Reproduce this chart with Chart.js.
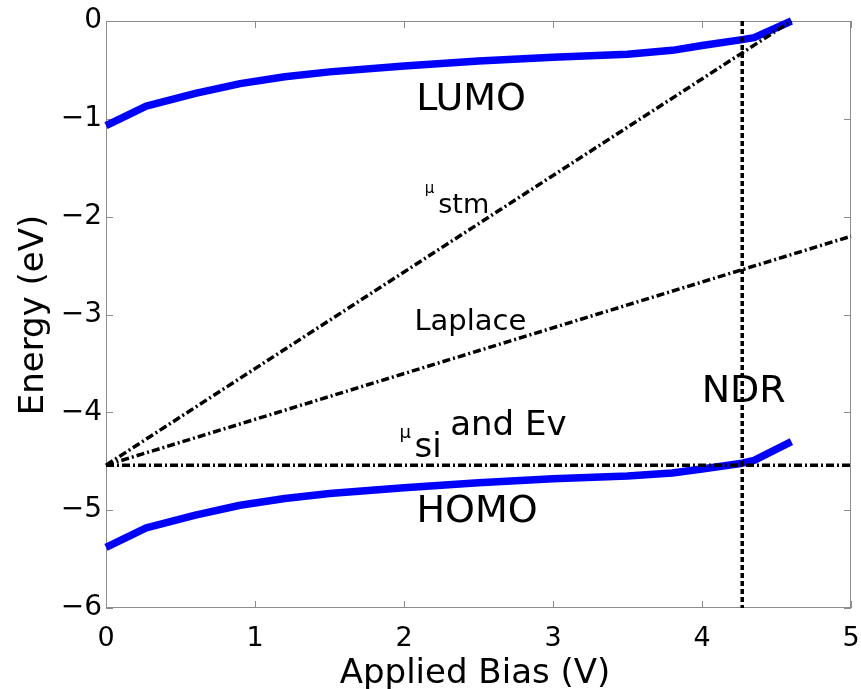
<!DOCTYPE html>
<html>
<head>
<meta charset="utf-8">
<script src="https://cdn.jsdelivr.net/npm/chart.js@4.4.1/dist/chart.umd.min.js"></script>
<style>
  html, body { margin: 0; padding: 0; background: #fff; }
  canvas { display: block; }
</style>
</head>
<body>
<canvas id="energyChart" width="861" height="689"></canvas>
<script>
// applied bias (V) sampled along the molecular levels
const bias = [0, 0.27, 0.6, 0.9, 1.2, 1.5, 2.0, 2.5, 3.0, 3.5, 3.8, 4.0, 4.27, 4.35, 4.6];
// level energies (eV)
const lumo = [-1.07, -0.87, -0.74, -0.64, -0.57, -0.52, -0.46, -0.41, -0.37, -0.34, -0.30, -0.25, -0.19, -0.17, 0];
const homo = [-5.38, -5.18, -5.05, -4.95, -4.88, -4.83, -4.77, -4.72, -4.68, -4.65, -4.62, -4.58, -4.52, -4.49, -4.30];

// straight reference lines: [bias, energy] end points
const muStm   = [[0, -4.54], [4.6, 0]];
const laplace = [[0, -4.54], [5, -2.2]];
const muSi    = [[0, -4.54], [5, -4.54]];
const ndr     = [[4.27, 0], [4.27, -6]];

const xTicks = [0, 1, 2, 3, 4, 5];
const yTicks = [0, -1, -2, -3, -4, -5, -6];

const FONT = 'DejaVu Sans';

const toPts = (xs, ys) => xs.map((x, i) => ({ x: x, y: ys[i] }));
const segPts = seg => seg.map(p => ({ x: p[0], y: p[1] }));

function blackLine(seg, dash) {
  return {
    data: segPts(seg),
    borderColor: '#000',
    borderWidth: 3.5,
    borderDash: dash,
    borderCapStyle: 'butt',
    pointRadius: 0,
    showLine: true,
    fill: false,
    order: 1,
    clip: 4
  };
}

function blueLine(ys) {
  return {
    data: toPts(bias, ys),
    borderColor: '#0000ff',
    borderWidth: 7.5,
    borderJoinStyle: 'round',
    borderCapStyle: 'butt',
    pointRadius: 0,
    showLine: true,
    fill: false,
    order: 2,
    clip: 6
  };
}

// box, inward tick marks, annotations and axis titles
const framePlugin = {
  id: 'framePlugin',
  beforeDatasetsDraw(chart) {
    const { ctx, chartArea: a, scales } = chart;
    ctx.save();
    ctx.strokeStyle = '#8c8c8c';
    ctx.lineWidth = 1;
    ctx.strokeRect(a.left + 0.5, a.top + 0.5, a.right - a.left - 1, a.bottom - a.top - 1);
    ctx.beginPath();
    const tl = 7;
    xTicks.forEach(v => {
      const px = Math.round(scales.x.getPixelForValue(v)) + 0.5;
      ctx.moveTo(px, a.bottom); ctx.lineTo(px, a.bottom - tl);
      ctx.moveTo(px, a.top); ctx.lineTo(px, a.top + tl);
    });
    yTicks.forEach(v => {
      const py = Math.round(scales.y.getPixelForValue(v)) + 0.5;
      ctx.moveTo(a.left, py); ctx.lineTo(a.left + tl, py);
      ctx.moveTo(a.right, py); ctx.lineTo(a.right - tl, py);
    });
    ctx.stroke();
    ctx.restore();
  },
  afterDatasetsDraw(chart) {
    const { ctx, scales } = chart;
    const X = v => scales.x.getPixelForValue(v);
    const Y = v => scales.y.getPixelForValue(v);
    const put = (txt, x, y, size, align) => {
      ctx.font = size + 'px "' + FONT + '"';
      ctx.textAlign = align || 'left';
      ctx.fillText(txt, X(x), Y(y));
    };
    ctx.save();
    ctx.fillStyle = '#000';
    ctx.textBaseline = 'alphabetic';
    put('LUMO', 2.45, -0.91, 38, 'center');
    put('HOMO', 2.49, -5.12, 38, 'center');
    put('NDR', 4.28, -3.89, 38, 'center');
    put('Laplace', 2.07, -3.16, 29);
    put('\u03bc', 2.14, -1.76, 15);
    put('stm', 2.23, -1.96, 27);
    put('\u03bc', 1.97, -4.26, 18);
    put('si', 2.07, -4.46, 34);
    put('and Ev', 2.31, -4.23, 34);
    ctx.restore();
  },
  afterDraw(chart) {
    const { ctx } = chart;
    ctx.save();
    ctx.fillStyle = '#000';
    ctx.font = '34px "' + FONT + '"';
    ctx.textBaseline = 'alphabetic';
    ctx.textAlign = 'center';
    ctx.fillText('Applied Bias (V)', 475, 683);
    ctx.translate(43, 315);
    ctx.rotate(-Math.PI / 2);
    ctx.fillText('Energy (eV)', 0, 0);
    ctx.restore();
  }
};

new Chart(document.getElementById('energyChart'), {
  type: 'scatter',
  data: {
    datasets: [
      blackLine(ndr, [5, 3]),
      blackLine(muStm, [8, 3, 2, 3]),
      blackLine(laplace, [8, 3, 2, 3]),
      blackLine(muSi, [8, 3, 2, 3]),
      blueLine(lumo),
      blueLine(homo)
    ]
  },
  options: {
    responsive: false,
    animation: false,
    layout: { padding: { top: 21, right: 10, left: 0, bottom: 0 } },
    plugins: { legend: { display: false }, tooltip: { enabled: false } },
    scales: {
      x: {
        type: 'linear',
        min: 0, max: 5,
        afterFit: s => { s.height = 81; s.paddingLeft = 0; s.paddingRight = 0; },
        afterBuildTicks: s => { s.ticks = xTicks.map(v => ({ value: v })); },
        grid: { display: false, drawTicks: false },
        border: { display: false },
        ticks: { color: '#000', font: { family: FONT, size: 27 }, padding: 15 }
      },
      y: {
        type: 'linear',
        min: -6, max: 0,
        afterFit: s => { s.width = 106; s.paddingTop = 0; s.paddingBottom = 0; },
        afterBuildTicks: s => { s.ticks = yTicks.map(v => ({ value: v })); },
        grid: { display: false, drawTicks: false },
        border: { display: false },
        ticks: {
          color: '#000', font: { family: FONT, size: 28 }, padding: 4,
          callback: v => String(v).replace('-', '\u2212')
        }
      }
    }
  },
  plugins: [framePlugin]
});
</script>
</body>
</html>
